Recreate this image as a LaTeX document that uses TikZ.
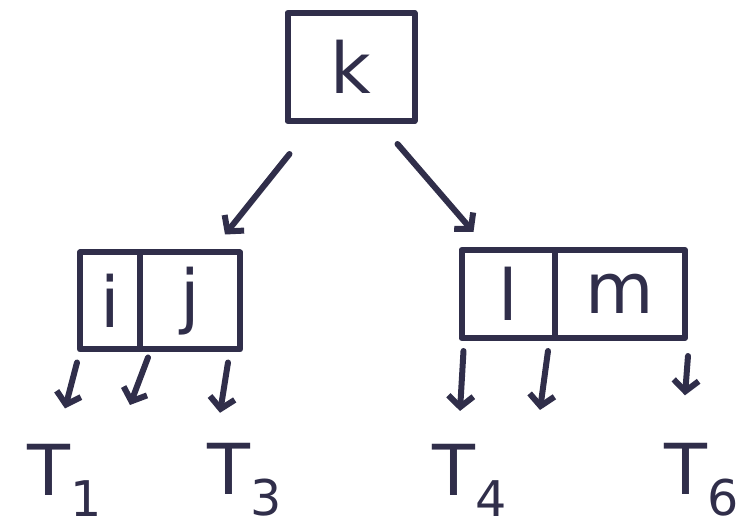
\documentclass[tikz,border=0pt]{standalone}
\usepackage{fontspec}
\setsansfont{DejaVu Sans}
\usetikzlibrary{arrows.meta}
\definecolor{ink}{RGB}{48,46,74}

\begin{document}
\begin{tikzpicture}[%
        line width = 1.2mm,
        line cap = round,
        line join = round,
        draw = ink,
        > = {Straight Barb[length = 2.2mm, width = 5mm]},
        keybox/.style = {draw = ink, inner sep = 0pt, text = ink,
            font = \sffamily\fontsize{40}{40}\selectfont},
        leaf/.style = {text = ink, inner sep = 0pt,
            font = \sffamily\fontsize{40}{40}\selectfont},
    ]

        \useasboundingbox (0.0, 0.0) rectangle (14.88, 10.62);

        % Root node.
        \node[keybox, minimum width = 2.54cm, minimum height = 2.16cm]
            (k) at (7.02, 9.28) {k};

        % Left child with two keys.
        \node[keybox, minimum width = 1.2cm, minimum height = 1.94cm]
            (i) at (2.2, 4.6) {i};
        \node[keybox, minimum width = 2.0cm, minimum height = 1.94cm]
            (j) at (3.8, 4.6) {j};

        % Right child with two keys.
        \node[keybox, minimum width = 1.86cm, minimum height = 1.76cm]
            (l) at (10.16, 4.74) {l};
        \node[keybox, minimum width = 2.6cm, minimum height = 1.76cm]
            (m) at (12.4, 4.74) {m};

        % Subtrees below the leaves.
        \node[leaf] (T1) at (1.3, 1.02) {T\textsubscript{1}};
        \node[leaf] (T3) at (4.9, 1.02) {T\textsubscript{3}};
        \node[leaf] (T4) at (9.4, 1.02) {T\textsubscript{4}};
        \node[leaf] (T6) at (14.05, 1.02) {T\textsubscript{6}};

        % Ends of the two unlabelled pointers.
        \coordinate (T2) at (2.6, 2.52);
        \coordinate (T5) at (10.8, 2.42);

        % Pointers from the root.
        \draw[->] ([xshift = 0.1cm, yshift = -0.6cm]k.south west)
            to ([xshift = 0.7cm, yshift = 0.3cm]j.north);
        \draw[->] ([xshift = -0.4cm, yshift = -0.4cm]k.south east)
            to ([xshift = 0.3cm, yshift = 0.3cm]l.north west);

        % Pointers from the left child.
        \begin{scope}[->]
            \draw ([yshift = -0.2cm]i.south west) to ([yshift = 0.65cm]T1.north);
            \draw ([xshift = 0.1cm, yshift = -0.1cm]i.south east) to (T2);
            \draw ([xshift = -0.3cm, yshift = -0.2cm]j.south east)
                to ([xshift = -0.5cm, yshift = 0.55cm]T3.north);
        \end{scope}

        % Pointers from the right child.
        \begin{scope}[->]
            \draw ([xshift = 0.1cm, yshift = -0.2cm]l.south west)
                to ([xshift = -0.2cm, yshift = 0.6cm]T4.north);
            \draw ([xshift = 0.8cm, yshift = -0.2cm]l.south)
                to (T5);
            \draw ([xshift = 0.0cm, yshift = -0.3cm]m.south east)
                to ([xshift = -0.35cm, yshift = 0.9cm]T6.north);
        \end{scope}
    \end{tikzpicture}
\end{document}
